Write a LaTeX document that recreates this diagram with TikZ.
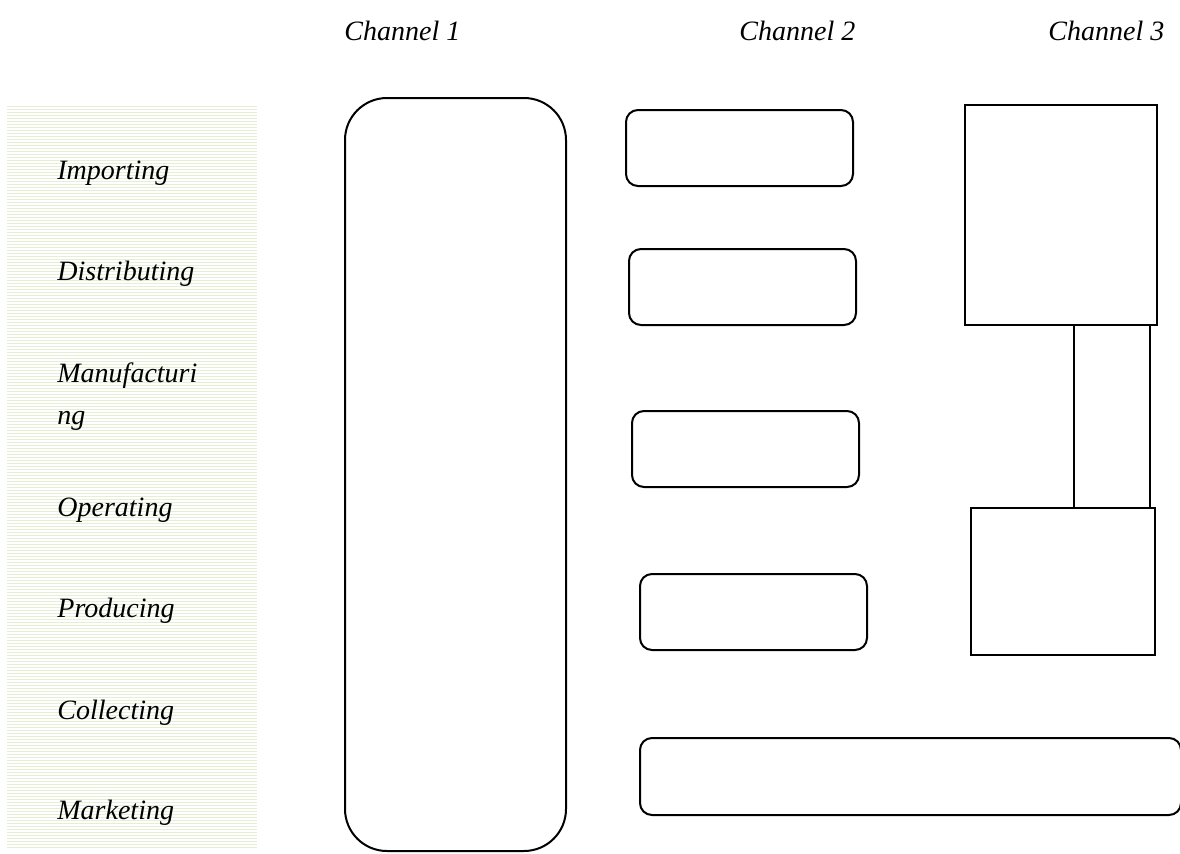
\documentclass[tikz,border=0pt]{standalone}
\usepackage{fontspec}
\setmainfont{Liberation Serif}
\usetikzlibrary{positioning}
\definecolor{stripegreen}{RGB}{230,239,214}
\tikzset{
  lbl/.style={anchor=west,inner sep=0pt,font=\fontsize{14pt}{17pt}\selectfont\itshape},
  chead/.style={anchor=west,inner sep=0pt,font=\fontsize{14pt}{17pt}\selectfont\itshape},
  rbox/.style={draw,line width=1pt,rounded corners=6pt,anchor=north west,inner sep=0pt},
  sbox/.style={draw,line width=1pt,anchor=north west,inner sep=0pt},
  stripe/.style={stripegreen,line width=0.5pt}
}
\begin{document}
\begin{tikzpicture}[x=0.5pt,y=-0.5pt]
\useasboundingbox (0,0) rectangle (1180,853);
% striped side panel
\fill[white] (7,105) rectangle (257,849);
\foreach \y in {106,109,...,848}
  \draw[stripe] (7,\y) -- (257,\y);
% activity labels
\node[lbl] (Imp) at (57,173) {Importing};
\node[lbl] (Dis) at (57,274) {Distributing};
\node[lbl,align=left,anchor=north west] (Man) at (57,362) {Manufacturi\\[4pt]ng};
\node[lbl] (Ope) at (57,510) {Operating};
\node[lbl] (Pro) at (57,611) {Producing};
\node[lbl] (Col) at (57,713) {Collecting};
\node[lbl] (Mar) at (57,813) {Marketing};
% channel headings
\node[chead] (Ch1) at (344,31) {Channel 1};
\node[chead] (Ch2) at (739,31) {Channel 2};
\node[chead] (Ch3) at (1048,31) {Channel 3};
% channel 1
\node[rbox,rounded corners=21pt,minimum width=110.5pt,minimum height=376.5pt] (C1) at (344,97) {};
% channel 2
\node[rbox,minimum width=113.5pt,minimum height=38pt] (C2a) at (625,109) {};
\node[rbox,minimum width=113.5pt,minimum height=38pt] (C2b) at (628,248) {};
\node[rbox,minimum width=113.5pt,minimum height=38pt] (C2c) at (631,410) {};
\node[rbox,minimum width=113.5pt,minimum height=38pt] (C2d) at (639,573) {};
\node[rbox,minimum width=270.5pt,minimum height=38.5pt] (C23) at (639,737) {};
% channel 3
\node[sbox,minimum width=96pt,minimum height=110pt] (C3a) at (964,104) {};
\node[sbox,minimum width=38pt,minimum height=91.5pt] (C3b) at (1073,324) {};
\node[sbox,minimum width=92pt,minimum height=73.5pt] (C3c) at (970,507) {};
\end{tikzpicture}
\end{document}
